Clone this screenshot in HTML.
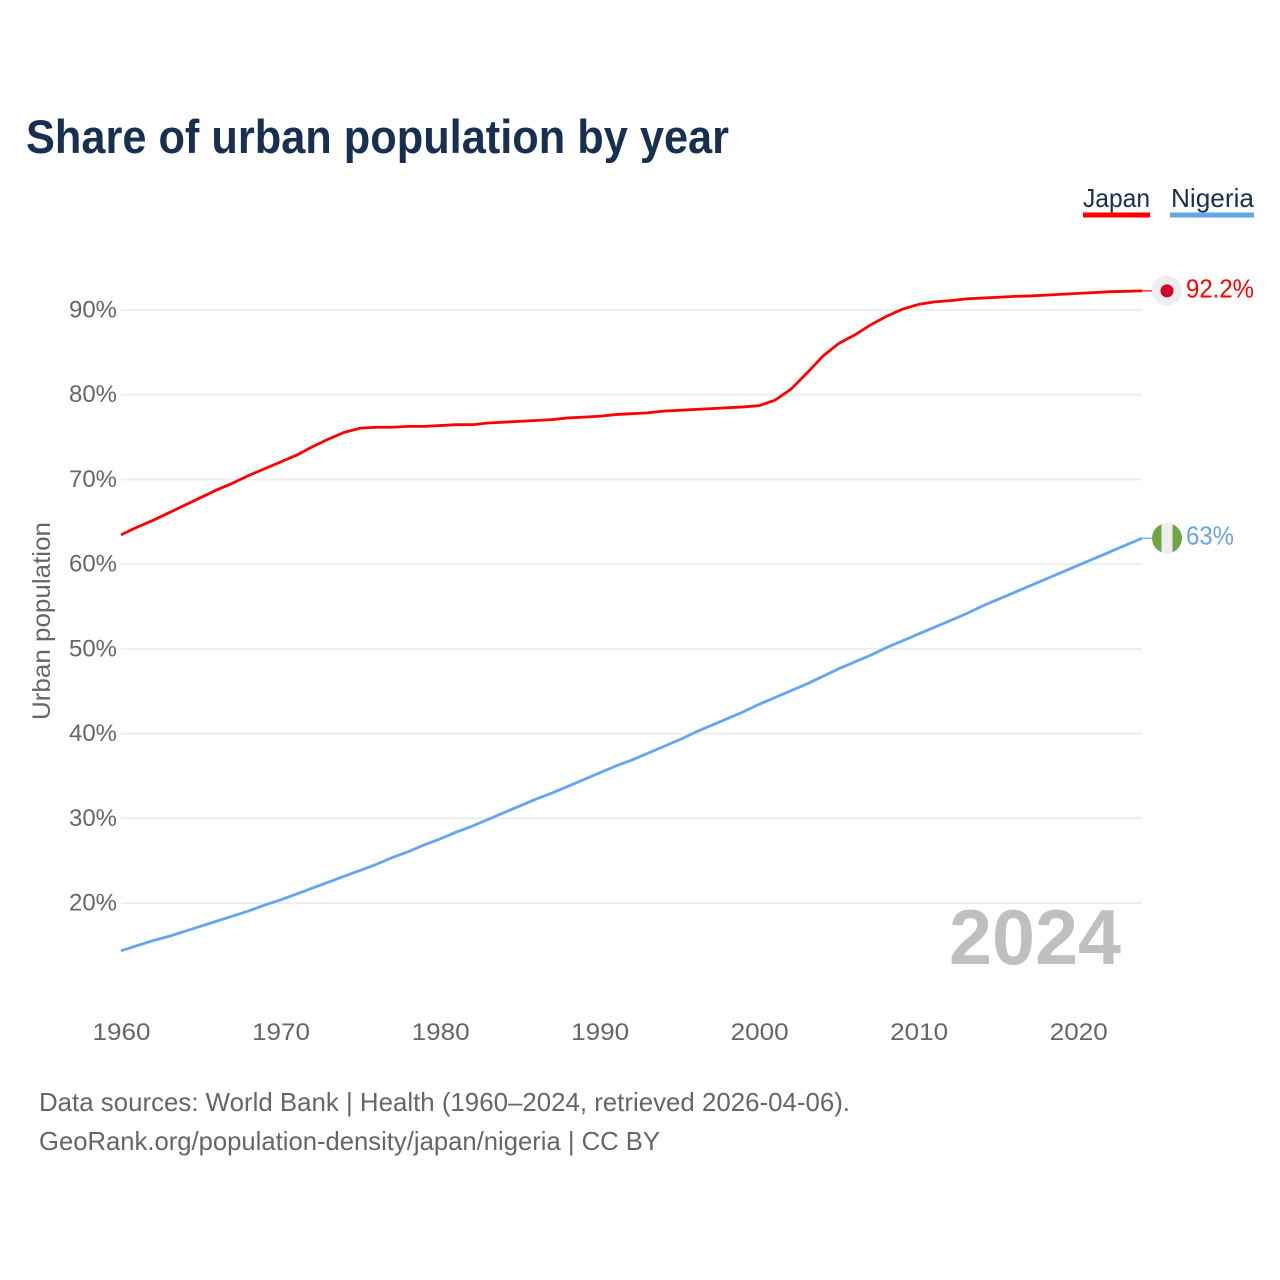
<!DOCTYPE html>
<html lang="en">
<head>
<meta charset="utf-8">
<title>Share of urban population by year</title>
<style>
html,body{margin:0;padding:0;background:#fff;}
svg{display:block;font-family:"Liberation Sans",sans-serif;}
</style>
</head>
<body>
<svg id="chart" xmlns="http://www.w3.org/2000/svg" width="1280" height="1280" viewBox="0 0 1280 1280">
  <rect x="0" y="0" width="1280" height="1280" fill="#ffffff"/>
  <text x="26" y="153" font-size="47" font-weight="700" fill="#17304f" textLength="703" lengthAdjust="spacingAndGlyphs">Share of urban population by year</text>

  <g>
    <g>
      <text x="1083" y="207" font-size="26" fill="#17304f" textLength="67" lengthAdjust="spacingAndGlyphs">Japan</text>
      <rect x="1083" y="212.5" width="67" height="5" fill="#ff0000"/>
    </g>
    <g>
      <text x="1171" y="207" font-size="26" fill="#17304f" textLength="83" lengthAdjust="spacingAndGlyphs">Nigeria</text>
      <rect x="1170" y="212.5" width="84" height="5" fill="#63a6ea"/>
    </g>
  </g>

  <g id="grid"></g>
  <g id="yticks"></g>
  <g id="xticks"></g>
  <text transform="translate(50,720) rotate(-90)" font-size="25" fill="#666666" textLength="198" lengthAdjust="spacingAndGlyphs">Urban population</text>

  <text id="year-watermark" x="949" y="964" font-size="78" font-weight="700" fill="#bfbfbf" textLength="172" lengthAdjust="spacingAndGlyphs">2024</text>

  <g id="series"></g>
  <g id="ends"></g>

  <text x="39" y="1111" font-size="26" fill="#666666" textLength="811" lengthAdjust="spacingAndGlyphs">Data sources: World Bank | Health (1960–2024, retrieved 2026-04-06).</text>
  <text x="39" y="1150" font-size="26" fill="#666666" textLength="621" lengthAdjust="spacingAndGlyphs">GeoRank.org/population-density/japan/nigeria | CC BY</text>
</svg>
<script>
const years = [1960,1961,1962,1963,1964,1965,1966,1967,1968,1969,1970,1971,1972,1973,1974,1975,1976,1977,1978,1979,1980,1981,1982,1983,1984,1985,1986,1987,1988,1989,1990,1991,1992,1993,1994,1995,1996,1997,1998,1999,2000,2001,2002,2003,2004,2005,2006,2007,2008,2009,2010,2011,2012,2013,2014,2015,2016,2017,2018,2019,2020,2021,2022,2023,2024];
const japanValues = [63.4,64.3,65.1,66.0,66.9,67.8,68.7,69.5,70.4,71.2,72.0,72.8,73.8,74.7,75.5,76.0,76.1,76.1,76.2,76.2,76.3,76.4,76.4,76.6,76.7,76.8,76.9,77.0,77.2,77.3,77.4,77.6,77.7,77.8,78.0,78.1,78.2,78.3,78.4,78.5,78.65,79.3,80.6,82.5,84.5,86.0,87.0,88.2,89.2,90.05,90.6,90.9,91.05,91.25,91.35,91.45,91.55,91.6,91.7,91.8,91.9,92.0,92.1,92.15,92.2];
const nigeriaValues = [14.3,14.9,15.5,16.0,16.6,17.2,17.8,18.4,19.0,19.7,20.3,21.0,21.7,22.4,23.1,23.8,24.5,25.3,26.0,26.8,27.5,28.3,29.0,29.8,30.6,31.4,32.2,32.9,33.7,34.5,35.3,36.1,36.8,37.6,38.4,39.2,40.1,40.9,41.7,42.5,43.4,44.2,45.0,45.8,46.7,47.6,48.4,49.2,50.1,50.9,51.7,52.5,53.3,54.1,55.0,55.8,56.6,57.4,58.2,59.0,59.8,60.6,61.4,62.2,63.0];
const yTickValues = [20,30,40,50,60,70,80,90];
const xTickValues = [1960,1970,1980,1990,2000,2010,2020];

const SVG_NS = 'http://www.w3.org/2000/svg';
const xScale = function (year) { return 121 + (year - 1960) * (1142 - 121) / 64; };
const yScale = function (pct) { return 902.5 - (pct - 20) * (902.5 - 309.5) / 70; };
const make = function (tag, parent, attrs, text) {
  const el = document.createElementNS(SVG_NS, tag);
  for (const k in attrs) el.setAttribute(k, attrs[k]);
  if (text !== undefined) el.textContent = text;
  parent.appendChild(el);
  return el;
};
const linePath = function (values) {
  return values.map(function (v, i) {
    return (i ? 'L' : 'M') + xScale(years[i]).toFixed(2) + ' ' + yScale(v).toFixed(2);
  }).join('');
};
const formatPct = function (v) { return (Math.round(v * 10) / 10) + '%'; };

const gridG = document.getElementById('grid');
const yG = document.getElementById('yticks');
yTickValues.forEach(function (t) {
  const line = make('line', gridG, {x1: xScale(1960), x2: xScale(2024), y1: yScale(t) + 0.5, y2: yScale(t) + 0.5, stroke: '#eeeeee', 'stroke-width': 2});
  
  
  const label = make('text', yG, {x: 117, y: yScale(t) + 8, 'text-anchor': 'end', 'font-size': 24, fill: '#666666', textLength: 48, lengthAdjust: 'spacingAndGlyphs'}, t + '%');
  
  
});

const xG = document.getElementById('xticks');
xTickValues.forEach(function (t) {
  const label = make('text', xG, {x: xScale(t) + 0.5, y: 1040, 'text-anchor': 'middle', 'font-size': 24, fill: '#666666', textLength: 58, lengthAdjust: 'spacingAndGlyphs'}, String(t));
  
  
});

const seriesG = document.getElementById('series');
const endsG = document.getElementById('ends');
const markerX = 1167;

const japanLine = make('path', seriesG, {d: linePath(japanValues), fill: 'none', stroke: '#ff0000', 'stroke-width': 2.8, 'stroke-linejoin': 'round'});



const nigeriaLine = make('path', seriesG, {d: linePath(nigeriaValues), fill: 'none', stroke: '#63a6ea', 'stroke-width': 2.8, 'stroke-linejoin': 'round'});



const japanLast = japanValues[japanValues.length - 1];
const japanEndY = yScale(japanLast);
const japanConnector = make('line', endsG, {x1: xScale(2024), x2: 1152, y1: japanEndY, y2: japanEndY, stroke: '#ff0000', 'stroke-width': 1.2});


const japanBadge = make('circle', endsG, {cx: markerX, cy: japanEndY, r: 15, fill: '#eeeeee'});


const japanDot = make('circle', endsG, {cx: markerX, cy: japanEndY, r: 6.5, fill: '#d8002b'});


const japanEndLabel = make('text', endsG, {x: 1186, y: japanEndY + 6.5, 'font-size': 26, fill: '#ff0000', textLength: 68, lengthAdjust: 'spacingAndGlyphs'}, formatPct(japanLast));



const nigeriaLast = nigeriaValues[nigeriaValues.length - 1];
const nigeriaEndY = yScale(nigeriaLast);
const nigeriaConnector = make('line', endsG, {x1: xScale(2024), x2: 1152, y1: nigeriaEndY, y2: nigeriaEndY, stroke: '#63a6ea', 'stroke-width': 1.2});


const nigeriaBadge = make('circle', endsG, {cx: markerX, cy: nigeriaEndY, r: 15, fill: '#6ea644'});


const nigeriaStripe = make('rect', endsG, {x: markerX - 5.5, y: nigeriaEndY - 15, width: 11, height: 30, fill: '#eeeeee'});


const nigeriaEndLabel = make('text', endsG, {x: 1186, y: nigeriaEndY + 6.5, 'font-size': 26, fill: '#63a6ea', textLength: 48, lengthAdjust: 'spacingAndGlyphs'}, formatPct(nigeriaLast));


</script>
</body>
</html>
